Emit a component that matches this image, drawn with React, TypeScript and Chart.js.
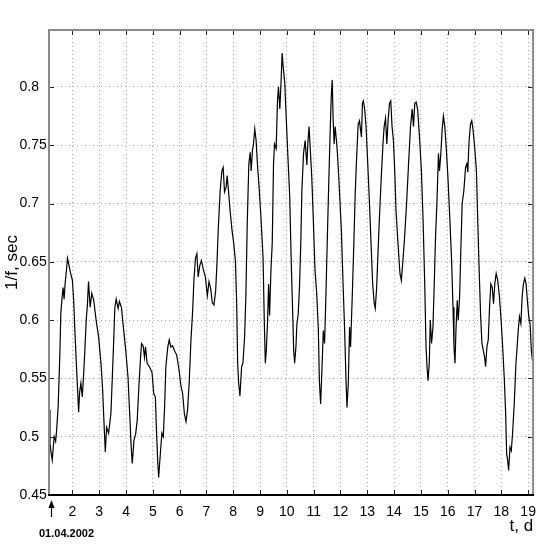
import React, { useEffect, useRef } from "react";
import { Chart, registerables } from "chart.js";

Chart.register(...registerables);

// time in days (day 1 = 01.04.2002)
const timeDays = [
  1.127, 1.164, 1.2, 1.248, 1.285, 1.322, 1.374, 1.41, 1.469, 1.532, 1.569, 1.617, 1.654, 1.69, 1.727, 1.779, 1.816, 1.864, 1.926,
  2.0, 2.048, 2.096, 2.147, 2.184, 2.232, 2.269, 2.317, 2.368, 2.416, 2.464, 2.516, 2.564, 2.601, 2.663, 2.722, 2.796, 2.884, 2.98,
  3.069, 3.128, 3.164, 3.201, 3.227, 3.275, 3.349, 3.437, 3.522, 3.584, 3.632, 3.706, 3.754, 3.828, 3.901, 3.99,
  4.074, 4.148, 4.196, 4.233, 4.296, 4.358, 4.417, 4.48, 4.542, 4.579, 4.638, 4.69, 4.727, 4.786, 4.874, 4.97,
  5.032, 5.095, 5.132, 5.18, 5.217, 5.279, 5.338, 5.39, 5.438, 5.486, 5.559, 5.611, 5.67, 5.733, 5.806, 5.891, 5.979,
  6.053, 6.112, 6.175, 6.237, 6.296, 6.359, 6.422, 6.481, 6.532, 6.591, 6.643, 6.691, 6.753, 6.812, 6.886, 6.96,
  7.033, 7.096, 7.159, 7.217, 7.28, 7.343, 7.391, 7.439, 7.512, 7.575, 7.623, 7.674, 7.733, 7.77, 7.822, 7.881, 7.954,
  8.017, 8.08, 8.128, 8.164, 8.201, 8.249, 8.312, 8.36, 8.422, 8.47, 8.522, 8.581, 8.632, 8.669, 8.717, 8.754, 8.802, 8.853, 8.901, 8.964,
  9.038, 9.111, 9.159, 9.196, 9.233, 9.281, 9.318, 9.355, 9.406, 9.454, 9.502, 9.539, 9.601, 9.649, 9.686, 9.738, 9.786, 9.823, 9.859, 9.922, 9.97,
  10.033, 10.106, 10.165, 10.217, 10.254, 10.29, 10.338, 10.375, 10.423, 10.475, 10.523, 10.559, 10.622, 10.681, 10.744, 10.781, 10.828, 10.865, 10.928, 10.991,
  11.049, 11.112, 11.175, 11.212, 11.259, 11.307, 11.359, 11.407, 11.455, 11.517, 11.565, 11.617, 11.654, 11.691, 11.727, 11.764, 11.801, 11.849, 11.886, 11.948,
  12.033, 12.096, 12.155, 12.206, 12.243, 12.291, 12.339, 12.376, 12.438, 12.501, 12.549, 12.597, 12.66, 12.707, 12.744, 12.781, 12.818, 12.855, 12.906, 12.954,
  13.017, 13.076, 13.139, 13.201, 13.26, 13.297, 13.349, 13.408, 13.47, 13.533, 13.592, 13.629, 13.68, 13.728, 13.776, 13.828, 13.875, 13.923, 13.975,
  14.023, 14.071, 14.144, 14.218, 14.27, 14.329, 14.391, 14.465, 14.539, 14.612, 14.675, 14.723, 14.771, 14.822, 14.881, 14.955,
  15.018, 15.08, 15.139, 15.191, 15.228, 15.265, 15.312, 15.349, 15.397, 15.449, 15.497, 15.545, 15.596, 15.655, 15.692, 15.744, 15.791, 15.839, 15.891, 15.95,
  16.013, 16.086, 16.149, 16.197, 16.234, 16.27, 16.307, 16.355, 16.392, 16.444, 16.492, 16.539, 16.602, 16.665, 16.713, 16.749, 16.797, 16.849, 16.897, 16.945,
  17.007, 17.07, 17.129, 17.181, 17.228, 17.276, 17.328, 17.376, 17.413, 17.461, 17.512, 17.56, 17.608, 17.66, 17.708, 17.755, 17.807, 17.866, 17.929, 17.991,
  18.05, 18.113, 18.161, 18.198, 18.234, 18.271, 18.323, 18.371, 18.419, 18.481, 18.544, 18.581, 18.629, 18.677, 18.728, 18.776, 18.824, 18.876, 18.923, 18.971,
  19.023, 19.071, 19.119, 19.163,
];

// 1/f in seconds
const periodSec = [
  0.523, 0.494, 0.487, 0.48, 0.491, 0.5, 0.496, 0.505, 0.526, 0.571, 0.606, 0.62, 0.628, 0.618, 0.631, 0.643, 0.653, 0.648, 0.641,
  0.634, 0.617, 0.589, 0.563, 0.545, 0.521, 0.538, 0.546, 0.534, 0.552, 0.574, 0.6, 0.615, 0.633, 0.611, 0.623, 0.617, 0.6, 0.585,
  0.562, 0.54, 0.52, 0.5, 0.487, 0.508, 0.503, 0.52, 0.571, 0.611, 0.618, 0.61, 0.616, 0.611, 0.594, 0.574,
  0.551, 0.514, 0.49, 0.477, 0.497, 0.502, 0.514, 0.543, 0.568, 0.58, 0.578, 0.568, 0.577, 0.563, 0.56, 0.555,
  0.537, 0.534, 0.508, 0.48, 0.465, 0.485, 0.503, 0.5, 0.525, 0.56, 0.577, 0.583, 0.577, 0.578, 0.574, 0.57, 0.557,
  0.543, 0.537, 0.52, 0.513, 0.523, 0.548, 0.583, 0.606, 0.634, 0.653, 0.657, 0.637, 0.647, 0.651, 0.643, 0.637,
  0.621, 0.633, 0.627, 0.615, 0.613, 0.625, 0.648, 0.677, 0.711, 0.728, 0.731, 0.71, 0.714, 0.724, 0.711, 0.694, 0.677,
  0.666, 0.651, 0.614, 0.563, 0.546, 0.535, 0.56, 0.563, 0.585, 0.62, 0.683, 0.734, 0.744, 0.728, 0.746, 0.751, 0.764, 0.754, 0.734, 0.714,
  0.686, 0.654, 0.597, 0.563, 0.574, 0.6, 0.631, 0.604, 0.643, 0.666, 0.734, 0.751, 0.747, 0.788, 0.8, 0.781, 0.806, 0.829, 0.818, 0.803, 0.777,
  0.743, 0.706, 0.648, 0.606, 0.574, 0.563, 0.577, 0.597, 0.605, 0.631, 0.67, 0.711, 0.743, 0.754, 0.733, 0.751, 0.766, 0.75, 0.723, 0.683,
  0.643, 0.623, 0.591, 0.548, 0.528, 0.557, 0.591, 0.58, 0.62, 0.677, 0.72, 0.763, 0.791, 0.806, 0.771, 0.751, 0.766, 0.754, 0.743, 0.717,
  0.677, 0.631, 0.591, 0.548, 0.525, 0.546, 0.594, 0.577, 0.62, 0.668, 0.708, 0.737, 0.768, 0.771, 0.764, 0.757, 0.786, 0.788, 0.78, 0.766,
  0.734, 0.703, 0.666, 0.631, 0.614, 0.61, 0.628, 0.663, 0.697, 0.728, 0.754, 0.766, 0.773, 0.751, 0.771, 0.786, 0.788, 0.766, 0.754,
  0.728, 0.694, 0.666, 0.64, 0.634, 0.651, 0.671, 0.7, 0.734, 0.766, 0.781, 0.766, 0.786, 0.787, 0.78, 0.754,
  0.728, 0.686, 0.634, 0.577, 0.56, 0.548, 0.563, 0.6, 0.58, 0.594, 0.631, 0.671, 0.7, 0.743, 0.728, 0.743, 0.763, 0.775, 0.766, 0.746,
  0.72, 0.683, 0.648, 0.611, 0.577, 0.563, 0.591, 0.617, 0.6, 0.62, 0.663, 0.7, 0.711, 0.731, 0.734, 0.727, 0.754, 0.768, 0.771, 0.763,
  0.748, 0.728, 0.677, 0.637, 0.603, 0.58, 0.574, 0.568, 0.56, 0.577, 0.583, 0.611, 0.631, 0.628, 0.614, 0.631, 0.64, 0.634, 0.62, 0.6,
  0.577, 0.548, 0.52, 0.485, 0.48, 0.471, 0.491, 0.488, 0.503, 0.528, 0.563, 0.574, 0.591, 0.603, 0.597, 0.62, 0.631, 0.636, 0.631, 0.617,
  0.603, 0.597, 0.574, 0.565,
];

const xTickDays = [2, 3, 4, 5, 6, 7, 8, 9, 10, 11, 12, 13, 14, 15, 16, 17, 18, 19];
const yTickValues = [0.45, 0.5, 0.55, 0.6, 0.65, 0.7, 0.75, 0.8];
const xRange = [1.127, 19.184];
const yRange = [0.45, 0.8488];
const startMarkDay = 1.19;
const startDateLabel = "01.04.2002";
const xTitle = "t, d";
const yTitle = "1/f, sec";

const SANS = "'Liberation Sans', Arial, Helvetica, sans-serif";

const framePlugin = {
  id: "frame",
  afterDraw(chart: any) {
    const { ctx, chartArea: a, scales } = chart;
    const xs = scales.x;
    const ys = scales.y;
    ctx.save();
    // inward tick marks
    ctx.strokeStyle = "#222";
    ctx.lineWidth = 1;
    ctx.beginPath();
    for (const d of xTickDays) {
      const px = Math.round(xs.getPixelForValue(d)) + 0.5;
      ctx.moveTo(px, a.bottom);
      ctx.lineTo(px, a.bottom - 5);
      ctx.moveTo(px, a.top);
      ctx.lineTo(px, a.top + 5);
    }
    for (const v of yTickValues) {
      const py = Math.round(ys.getPixelForValue(v)) + 0.5;
      ctx.moveTo(a.left, py);
      ctx.lineTo(a.left + 5, py);
      ctx.moveTo(a.right, py);
      ctx.lineTo(a.right - 5, py);
    }
    ctx.stroke();
    // frame
    ctx.lineWidth = 2;
    ctx.strokeStyle = "#8a8a8a";
    ctx.beginPath();
    ctx.moveTo(a.left, a.bottom);
    ctx.lineTo(a.left, a.top);
    ctx.lineTo(a.right, a.top);
    ctx.lineTo(a.right, a.bottom);
    ctx.stroke();
    ctx.strokeStyle = "#000";
    ctx.beginPath();
    ctx.moveTo(a.left - 1, a.bottom);
    ctx.lineTo(a.right + 1, a.bottom);
    ctx.stroke();
    // start arrow
    const ax = Math.round(xs.getPixelForValue(startMarkDay)) + 0.5;
    ctx.fillStyle = "#000";
    ctx.beginPath();
    ctx.moveTo(ax, a.bottom + 5);
    ctx.lineTo(ax - 3, a.bottom + 13);
    ctx.lineTo(ax + 3, a.bottom + 13);
    ctx.closePath();
    ctx.fill();
    ctx.lineWidth = 1.2;
    ctx.beginPath();
    ctx.moveTo(ax, a.bottom + 11);
    ctx.lineTo(ax, a.bottom + 22);
    ctx.stroke();
    ctx.font = "bold 11px " + SANS;
    ctx.textAlign = "center";
    ctx.textBaseline = "middle";
    ctx.fillText(startDateLabel, ax + 15, a.bottom + 39);
    ctx.restore();
  },
};

export default function App() {
  const ref = useRef<HTMLCanvasElement>(null);
  useEffect(() => {
    const points = timeDays.map((t, i) => ({ x: t, y: periodSec[i] }));
    const chart = new Chart(ref.current as HTMLCanvasElement, {
      type: "line",
      data: {
        datasets: [
          {
            data: points,
            borderColor: "#000",
            borderWidth: 1.2,
            pointRadius: 0,
            tension: 0,
            fill: false,
          },
        ],
      },
      options: {
        animation: false,
        responsive: false,
        devicePixelRatio: 1,
        layout: { padding: { left: 19.5, top: 30, right: 6, bottom: 0 } },
        plugins: { legend: { display: false }, tooltip: { enabled: false } },
        scales: {
          x: {
            type: "linear",
            min: xRange[0],
            max: xRange[1],
            afterBuildTicks: (s: any) => {
              s.ticks = xTickDays.map((v) => ({ value: v }));
            },
            afterFit: (s: any) => {
              s.height = 50;
            },
            grid: { color: "#a8a8a8", lineWidth: 1, drawTicks: false },
            border: { display: false, dash: [1, 3] },
            ticks: {
              padding: 9,
              color: "#000",
              font: { family: SANS, size: 14 },
              callback: (v: any) => String(v),
              maxRotation: 0,
              autoSkip: false,
            },
            title: {
              display: true,
              text: xTitle,
              align: "end",
              color: "#000",
              font: { family: SANS, size: 17 },
              padding: { top: 0, bottom: 8.2 },
            },
          },
          y: {
            type: "linear",
            min: yRange[0],
            max: yRange[1],
            afterBuildTicks: (s: any) => {
              s.ticks = yTickValues.map((v) => ({ value: v }));
            },
            afterFit: (s: any) => {
              s.width = 29.5;
            },
            grid: { color: "#a8a8a8", lineWidth: 1, drawTicks: false },
            border: { display: false, dash: [1, 3] },
            ticks: {
              crossAlign: "far",
              color: "#000",
              font: { family: SANS, size: 14 },
              callback: (v: any) => String(v),
              autoSkip: false,
            },
            title: {
              display: true,
              text: yTitle,
              color: "#000",
              font: { family: SANS, size: 17 },
              padding: { top: -17.2, bottom: 0 },
            },
          },
        },
      },
      plugins: [framePlugin],
    } as any);
    return () => chart.destroy();
  }, []);
  return (
    <canvas
      ref={ref}
      width={545}
      height={545}
      style={{ position: "fixed", left: 0, top: 0, width: 545, height: 545, display: "block", background: "#fff" }}
    />
  );
}
